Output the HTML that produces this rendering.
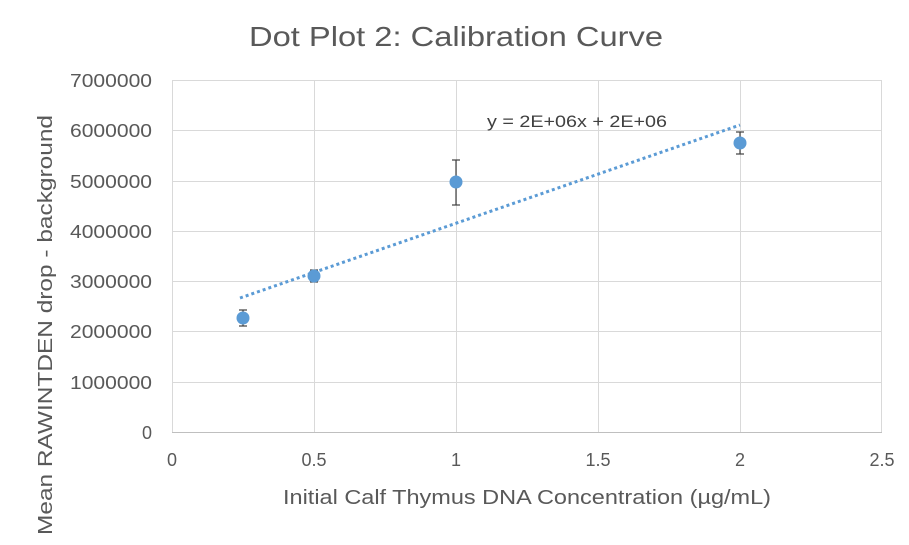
<!DOCTYPE html>
<html><head><meta charset="utf-8"><style>
body{margin:0;background:#fff;}
svg{display:block;font-family:"Liberation Sans",sans-serif;}
</style></head><body>
<svg width="909" height="545" viewBox="0 0 909 545">
<rect width="909" height="545" fill="#fff"/>
<text x="456" y="46" text-anchor="middle" font-size="28" fill="#595959" textLength="414" lengthAdjust="spacingAndGlyphs">Dot Plot 2: Calibration Curve</text>
<g stroke="#d9d9d9" stroke-width="1">
<line x1="172" y1="80.5" x2="882" y2="80.5"/>
<line x1="172" y1="130.5" x2="882" y2="130.5"/>
<line x1="172" y1="181.5" x2="882" y2="181.5"/>
<line x1="172" y1="231.5" x2="882" y2="231.5"/>
<line x1="172" y1="281.5" x2="882" y2="281.5"/>
<line x1="172" y1="331.5" x2="882" y2="331.5"/>
<line x1="172" y1="382.5" x2="882" y2="382.5"/>
<line x1="314.5" y1="80" x2="314.5" y2="432"/>
<line x1="456.5" y1="80" x2="456.5" y2="432"/>
<line x1="598.5" y1="80" x2="598.5" y2="432"/>
<line x1="740.5" y1="80" x2="740.5" y2="432"/>
<line x1="881.5" y1="80" x2="881.5" y2="432"/>
<line x1="172.5" y1="80" x2="172.5" y2="432"/>
</g>
<line x1="172" y1="432.5" x2="882" y2="432.5" stroke="#bfbfbf"/>
<g font-size="18" fill="#595959" text-anchor="end">
<text x="152" y="87" textLength="82" lengthAdjust="spacingAndGlyphs">7000000</text>
<text x="152" y="137" textLength="82" lengthAdjust="spacingAndGlyphs">6000000</text>
<text x="152" y="188" textLength="82" lengthAdjust="spacingAndGlyphs">5000000</text>
<text x="152" y="238" textLength="82" lengthAdjust="spacingAndGlyphs">4000000</text>
<text x="152" y="288" textLength="82" lengthAdjust="spacingAndGlyphs">3000000</text>
<text x="152" y="338" textLength="82" lengthAdjust="spacingAndGlyphs">2000000</text>
<text x="152" y="389" textLength="82" lengthAdjust="spacingAndGlyphs">1000000</text>
<text x="152" y="439">0</text>
</g>
<g font-size="18" fill="#595959" text-anchor="middle">
<text x="172" y="466">0</text>
<text x="314" y="466">0.5</text>
<text x="456" y="466">1</text>
<text x="598" y="466">1.5</text>
<text x="740" y="466">2</text>
<text x="882" y="466">2.5</text>
</g>
<text x="527" y="504" text-anchor="middle" font-size="20" fill="#595959" textLength="488" lengthAdjust="spacingAndGlyphs">Initial Calf Thymus DNA Concentration (µg/mL)</text>
<text transform="translate(52,325) rotate(-90)" text-anchor="middle" font-size="20" fill="#595959" textLength="420" lengthAdjust="spacingAndGlyphs">Mean RAWINTDEN drop - background</text>
<line x1="240" y1="298" x2="740" y2="125" stroke="#5b9bd5" stroke-width="3" stroke-dasharray="3,3"/>
<text x="577" y="127" text-anchor="middle" font-size="17" fill="#404040" textLength="180" lengthAdjust="spacingAndGlyphs">y = 2E+06x + 2E+06</text>
<g stroke="#404040" stroke-width="1.2">
<line x1="243" y1="310" x2="243" y2="326"/><line x1="239" y1="310" x2="247" y2="310"/><line x1="239" y1="326" x2="247" y2="326"/>
<line x1="314" y1="270" x2="314" y2="282"/><line x1="310" y1="270" x2="318" y2="270"/><line x1="310" y1="282" x2="318" y2="282"/>
<line x1="456" y1="160" x2="456" y2="205"/><line x1="452" y1="160" x2="460" y2="160"/><line x1="452" y1="205" x2="460" y2="205"/>
<line x1="740" y1="132" x2="740" y2="154"/><line x1="736" y1="132" x2="744" y2="132"/><line x1="736" y1="154" x2="744" y2="154"/>
</g>
<g fill="#5b9bd5">
<circle cx="243" cy="318" r="6.5"/>
<circle cx="314" cy="276" r="6.5"/>
<circle cx="456" cy="182" r="6.5"/>
<circle cx="740" cy="143" r="6.5"/>
</g>
</svg>
</body></html>
